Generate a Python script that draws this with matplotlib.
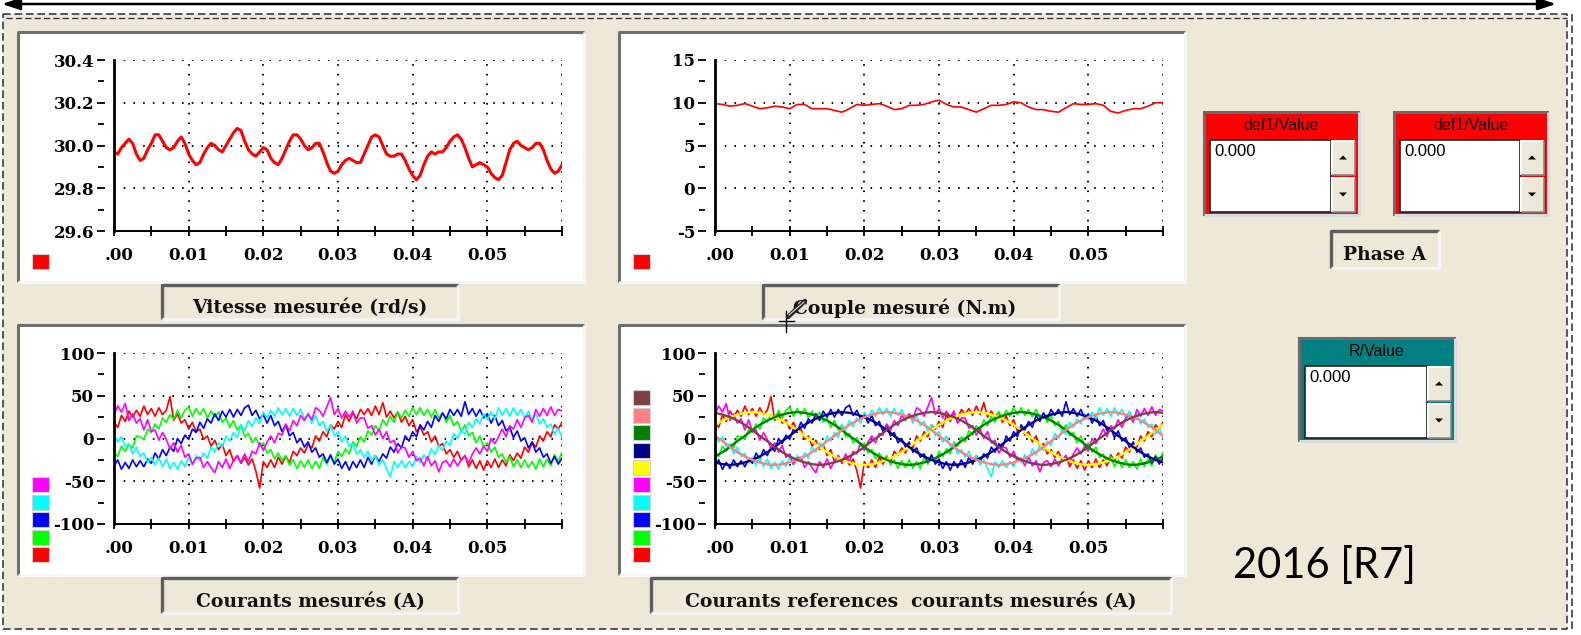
import numpy as np
import matplotlib
matplotlib.use("Agg")
import matplotlib.pyplot as plt
from matplotlib.patches import Rectangle, Polygon
from matplotlib.transforms import ScaledTranslation

W, H = 1581, 635
DPI = 100

plt.rcParams['font.family'] = 'DejaVu Serif'
plt.rcParams['font.weight'] = 'bold'

dt_vitesse = 0.0005
vitesse = [29.97, 29.96, 29.99, 30.01, 30.03, 30.01, 29.96, 29.93, 29.94, 29.98,
           30.01, 30.05, 30.05, 30.02, 29.99, 29.98, 29.99, 30.02, 30.04, 30.01,
           29.96, 29.93, 29.91, 29.92, 29.96, 29.99, 30.01, 30.00, 29.98, 29.97,
           30.00, 30.03, 30.06, 30.08, 30.07, 30.02, 29.98, 29.96, 29.95, 29.97,
           29.99, 29.98, 29.94, 29.92, 29.91, 29.94, 29.98, 30.02, 30.05, 30.05,
           30.03, 30.00, 29.98, 29.99, 30.01, 30.01, 29.97, 29.92, 29.88, 29.87,
           29.88, 29.91, 29.93, 29.94, 29.93, 29.92, 29.92, 29.96, 30.00, 30.04,
           30.05, 30.04, 30.00, 29.96, 29.95, 29.95, 29.96, 29.96, 29.93, 29.89,
           29.86, 29.84, 29.86, 29.91, 29.95, 29.97, 29.96, 29.97, 29.97, 29.99,
           30.02, 30.04, 30.05, 30.03, 29.99, 29.94, 29.90, 29.91, 29.92, 29.91,
           29.90, 29.87, 29.85, 29.84, 29.86, 29.92, 29.98, 30.01, 30.02, 30.00,
           29.99, 29.98, 29.99, 30.01, 30.01, 29.98, 29.93, 29.89, 29.87, 29.88,
           29.91]

dt_couple = 0.001
couple = [9.9, 9.8, 9.6, 9.7, 9.9, 9.6, 9.3, 9.4, 9.6, 9.5,
          9.3, 9.8, 9.8, 9.3, 9.3, 9.3, 9.1, 8.9, 9.3, 9.8,
          9.7, 9.8, 9.9, 9.6, 9.2, 9.3, 9.7, 9.7, 9.8, 10.1,
          10.3, 9.8, 9.5, 9.5, 9.2, 8.9, 9.3, 9.7, 9.7, 9.8,
          10.1, 10.0, 9.5, 9.2, 9.2, 9.0, 8.9, 9.4, 9.9, 9.8,
          9.8, 9.9, 9.7, 9.0, 8.8, 9.1, 9.3, 9.3, 9.6, 10.0,
          10.0]

# courants mesures (pas 0.5 ms)
dt_mes = 0.0005
i_rouge = [19, 13, 27, 20, 32, 25, 33, 26, 38, 28, 35, 26, 36, 28, 33, 49, 21, 29, 18, 22,
           11, 19, 8, 11, -1, 3, -9, -2, -13, -7, -20, -13, -27, -20, -29, -22, -31, -24, -38, -58,
           -27, -34, -25, -34, -22, -30, -21, -28, -15, -20, -11, -17, -7, -11, 3, -3, 8, 2, 16, 11,
           20, 13, 28, 20, 30, 23, 34, 28, 35, 27, 38, 28, 42, 25, 32, 24, 31, 19, 26, 15,
           22, 8, 14, 4, 8, -4, 3, -9, -6, -18, -13, -22, -15, -26, -20, -33, -25, -35, -26, -37,
           -26, -34, -24, -34, -25, -32, -19, -26, -17, -23, -10, -16, -5, -10, 3, -3, 8, 2, 16, 11,
           19]
i_vert = [-17, -21, -9, -15, -7, -11, 3, 2, -1, 11, 7, 17, 11, 24, 19, 28, 22, 33, 24, 33,
          37, 26, 35, 28, 35, 24, 32, 25, 31, 19, 24, 13, 21, 10, 16, 2, 6, -5, 1, -9,
          -5, -17, -13, -24, -17, -26, -20, -31, -25, -35, -26, -34, -25, -35, -27, -35, -22, -30, -21, -28,
          -15, -21, -12, -18, -4, -9, 2, -4, 9, 4, 15, 9, 22, 15, 26, 19, 31, 24, 33, 26,
          36, 28, 36, 27, 34, 25, 34, 24, 30, 19, 27, 15, 20, 8, 16, 3, 7, -5, 3, -10,
          -5, -16, -10, -22, -18, -28, -21, -33, -25, -34, -25, -34, -27, -36, -24, -33, -24, -32, -19, -27,
          -16]
i_bleu = [-32, -25, -36, -28, -35, -25, -33, -26, -33, -24, -29, -17, -24, -13, -20, -10, -15, 0, -6, 4,
          -1, 11, 7, 19, 12, 23, 18, 29, 21, 32, 25, 34, 25, 34, 27, 36, 39, 27, 33, 23,
          28, 18, 27, 15, 20, 8, 16, 3, 7, -5, 0, -10, -4, -16, -11, -22, -18, -28, -19, -30,
          -24, -35, -27, -37, -27, -34, -25, -34, -22, -30, -20, -27, -18, -23, -10, -16, -6, -11, 3, -3,
          8, 2, 16, 10, 20, 13, 27, 20, 30, 23, 34, 27, 34, 26, 43, 28, 35, 26, 34, 24,
          29, 18, 27, 15, 21, 9, 13, 1, 9, -3, 1, -11, -4, -16, -11, -22, -18, -29, -21, -30,
          -23]
i_cyan = [5, -4, 2, -9, -6, -18, -10, -21, -17, -28, -22, -31, -23, -33, -24, -35, -28, -36, -26, -33,
          -22, -31, -20, -26, -17, -23, -10, -16, -5, -10, 3, -3, 7, 1, 16, 10, 21, 14, 24, 18,
          31, 24, 33, 26, 36, 28, 35, 26, 35, 27, 34, 23, 28, 18, 27, 15, 20, 8, 16, 3,
          8, -4, 3, -9, -6, -18, -13, -22, -15, -26, -20, -31, -25, -35, -45, -27, -34, -26, -34, -27,
          -33, -21, -28, -19, -26, -12, -19, -8, -14, -3, -8, 6, 0, 10, 5, 19, 13, 23, 17, 29,
          22, 31, 23, 36, 27, 35, 26, 36, 27, 34, 24, 32, 22, 29, 17, 23, 13, 17, 5, 12,
          1]
i_magenta = [28, 38, 31, 41, 21, 29, 18, 23, 10, 22, 8, 10, -2, 7, -1, -12, -5, -16, -8, -22,
             -18, -30, -23, -22, -34, -27, -34, -40, -27, -34, -24, -35, -26, -20, -28, -18, -27, -15, -18, -5,
             -14, -4, 3, -5, 6, 4, 17, 9, 21, 15, 27, 21, 29, 22, 36, 33, 26, 37, 48, 28,
             35, 24, 32, 25, 32, 18, 24, 24, 12, 15, 4, 11, 0, 8, -5, -2, -17, -10, -11, -22,
             -15, -26, -23, -32, -21, -32, -26, -39, -28, -26, -33, -24, -32, -25, -20, -29, -18, -11, -18, -9,
             -15, 0, -6, 2, 11, 2, 15, 11, 22, 13, 24, 27, 19, 34, 26, 35, 27, 37, 27, 34,
             32]

# courants de reference (pas 1 ms)
dt_ref = 0.001
ref_jaune = [16, 21, 25, 28, 30, 31, 30, 28, 25, 21, 16, 10, 3, -3, -10, -16, -21, -25, -28, -30,
             -31, -30, -28, -25, -21, -16, -10, -3, 3, 10, 16, 21, 25, 28, 30, 31, 30, 28, 25, 21,
             16, 10, 3, -3, -10, -16, -21, -25, -28, -30, -31, -30, -28, -25, -21, -16, -10, -3, 3, 10,
             16]
ref_vertfonce = [-21, -16, -10, -3, 3, 10, 16, 21, 25, 28, 30, 31, 30, 28, 25, 21, 16, 10, 3, -3,
                 -10, -16, -21, -25, -28, -30, -31, -30, -28, -25, -21, -16, -10, -3, 3, 10, 16, 21, 25, 28,
                 30, 31, 30, 28, 25, 21, 16, 10, 3, -3, -10, -16, -21, -25, -28, -30, -31, -30, -28, -25,
                 -21]
ref_marine = [-28, -30, -31, -30, -28, -25, -21, -16, -10, -3, 3, 10, 16, 21, 25, 28, 30, 31, 30, 28,
              25, 21, 16, 10, 3, -3, -10, -16, -21, -25, -28, -30, -31, -30, -28, -25, -21, -16, -10, -3,
              3, 10, 16, 21, 25, 28, 30, 31, 30, 28, 25, 21, 16, 10, 3, -3, -10, -16, -21, -25,
              -28]
ref_rose = [3, -3, -10, -16, -21, -25, -28, -30, -31, -30, -28, -25, -21, -16, -10, -3, 3, 10, 16, 21,
            25, 28, 30, 31, 30, 28, 25, 21, 16, 10, 3, -3, -10, -16, -21, -25, -28, -30, -31, -30,
            -28, -25, -21, -16, -10, -3, 3, 10, 16, 21, 25, 28, 30, 31, 30, 28, 25, 21, 16, 10,
            3]
ref_brun = [30, 28, 25, 21, 16, 10, 3, -3, -10, -16, -21, -25, -28, -30, -31, -30, -28, -25, -21, -16,
            -10, -3, 3, 10, 16, 21, 25, 28, 30, 31, 30, 28, 25, 21, 16, 10, 3, -3, -10, -16,
            -21, -25, -28, -30, -31, -30, -28, -25, -21, -16, -10, -3, 3, 10, 16, 21, 25, 28, 30, 31,
            30]

x_ticks = [0, 0.01, 0.02, 0.03, 0.04, 0.05, 0.06]
x_labels = ['.00', '0.01', '0.02', '0.03', '0.04', '0.05', '']
x_minor = [0.005, 0.015, 0.025, 0.035, 0.045, 0.055]

y_vit = [29.6, 29.8, 30.0, 30.2, 30.4]
y_vit_lab = ['29.6', '29.8', '30.0', '30.2', '30.4']
y_vit_min = [29.7, 29.9, 30.1, 30.3]
y_cpl = [-5, 0, 5, 10, 15]
y_cpl_lab = ['-5', '0', '5', '10', '15']
y_cpl_min = [-2.5, 2.5, 7.5, 12.5]
y_cour = [-100, -50, 0, 50, 100]
y_cour_lab = ['-100', '-50', '0', '50', '100']
y_cour_min = [-75, -25, 25, 75]

ROUGE, VERT, BLEU, CYAN, MAGENTA = '#ff0000', '#00ff00', '#0000ff', '#00ffff', '#ff00ff'
JAUNE, MARINE, VERTF, ROSE, BRUN = '#ffff00', '#000080', '#008000', '#ff8080', '#804040'
BEIGE = '#ece9d8'

fig = plt.figure(figsize=(W / DPI, H / DPI), dpi=DPI, facecolor='white')
bg = fig.add_axes([0, 0, 1, 1])
bg.set_xlim(0, W)
bg.set_ylim(H, 0)
bg.set_autoscale_on(False)
bg.axis('off')


def box(x0, y0, x1, y1, fc, ec='none', lw=0, z=1):
    bg.add_patch(Rectangle((x0, y0), x1 - x0, y1 - y0, facecolor=fc, edgecolor=ec, linewidth=lw, zorder=z))


def bevel(x0, y0, x1, y1, dark, light, lw, z=2):
    bg.plot([x0, x0, x1], [y1, y0, y0], color=dark, lw=lw, solid_capstyle='butt', zorder=z)
    bg.plot([x1, x1, x0], [y0, y1, y1], color=light, lw=lw, solid_capstyle='butt', zorder=z)


# fond beige + cadre en pointilles
box(3, 14, 1567, 629, BEIGE, z=0)
dash = (0, (5, 2.5))
bg.plot([3, 1567, 1567, 3, 3], [14, 14, 629, 629, 14], color='#2a2a3a', lw=1.1, linestyle=dash, zorder=1)
bg.plot([6, 1567], [17.5, 17.5], color='#2a2a3a', lw=0.9, linestyle=dash, zorder=1)
bg.plot([1571.5, 1571.5], [14, 629], color='#2a2a3a', lw=1.1, linestyle=dash, zorder=1)

# fleche du haut
bg.annotate('', xy=(2, 4), xytext=(1556, 4),
            arrowprops=dict(arrowstyle='<|-|>,head_length=0.6,head_width=0.2',
                            color='black', lw=1.8, mutation_scale=18, shrinkA=0, shrinkB=0))


def axes_px(x0, y0, x1, y1):
    return fig.add_axes([x0 / W, 1 - y1 / H, (x1 - x0) / W, (y1 - y0) / H])


def chart(ox, oy, ylim, yt, ylab, ymin, legend):
    box(ox + 17, oy + 31, ox + 585, oy + 283, 'white', z=1)
    bevel(ox + 18, oy + 32, ox + 584, oy + 282, '#6f6f6f', '#f6f6f6', 2.2)
    for k, c in enumerate(legend[::-1]):
        y0 = oy + 254 - k * 17.4
        box(ox + 32, y0, ox + 49, y0 + 15, c, ec='#cfcfcf', lw=0.8, z=3)

    ax = axes_px(ox + 114, oy + 60, ox + 562, oy + 231)
    ax.set_facecolor('none')
    ax.set_xlim(0, 0.06)
    ax.set_ylim(*ylim)
    for s in ['top', 'right']:
        ax.spines[s].set_visible(False)
    ax.spines['left'].set_linewidth(2.0)
    ax.spines['bottom'].set_linewidth(1.4)
    ax.set_xticks(x_ticks, x_labels)
    ax.set_xticks(x_minor, minor=True)
    ax.set_yticks(yt)
    ax.tick_params(axis='y', left=False, labelleft=False)
    ax.tick_params(axis='x', which='both', direction='inout', length=7, width=1.3,
                   pad=8, labelsize=12)
    ax.grid(True, which='major', color='black', linestyle=(0, (0.8, 4.2)), linewidth=1.4)
    lbl = ax.get_xticklabels()[0]
    lbl.set_transform(lbl.get_transform() + ScaledTranslation(0.05, 0, fig.dpi_scale_trans))

    sec = ax.secondary_yaxis(-13 / 448)
    sec.spines['left'].set_visible(False)
    sec.set_yticks(yt, ylab)
    sec.set_yticks(ymin, minor=True)
    sec.tick_params(which='major', direction='inout', length=6, width=1.3, pad=2, labelsize=12)
    sec.tick_params(which='minor', direction='inout', length=4, width=1.3)
    return ax


def titre(x0, y0, x1, y1, texte, cx):
    box(x0, y0, x1, y1, BEIGE, z=2)
    bevel(x0 + 1, y0 + 1, x1 - 1, y1 - 1, '#5e5e5e', '#f4f4f4', 2.4, z=3)
    bg.text(cx, (y0 + y1) / 2 + 6, texte, fontsize=13.5, fontweight='bold', family='DejaVu Serif',
            ha='center', va='center', color='#111111', zorder=4)


# vitesse
ax1 = chart(0, 0, (29.6, 30.4), y_vit, y_vit_lab, y_vit_min, [ROUGE])
ax1.plot(np.arange(len(vitesse)) * dt_vitesse, vitesse, color=ROUGE, lw=2.2)
titre(161, 284, 459, 320, 'Vitesse mesurée (rd/s)', 310)

# couple
ax2 = chart(601, 0, (-5, 15), y_cpl, y_cpl_lab, y_cpl_min, [ROUGE])
ax2.plot(np.arange(len(couple)) * dt_couple, couple, color=ROUGE, lw=1.2)
titre(762, 284, 1060, 320, 'Couple mesuré (N.m)', 905)

# courants mesures
mesures = [(i_rouge, ROUGE), (i_vert, VERT), (i_bleu, BLEU), (i_cyan, CYAN), (i_magenta, MAGENTA)]
refs = [(ref_jaune, JAUNE), (ref_vertfonce, VERTF), (ref_marine, MARINE), (ref_rose, ROSE), (ref_brun, BRUN)]

ax3 = chart(0, 293, (-100, 100), y_cour, y_cour_lab, y_cour_min,
            [MAGENTA, CYAN, BLEU, VERT, ROUGE])
for vals, c in mesures:
    ax3.plot(np.arange(len(vals)) * dt_mes, vals, color=c, lw=1.2)
titre(161, 577, 459, 614, 'Courants mesurés (A)', 310)

ax4 = chart(601, 293, (-100, 100), y_cour, y_cour_lab, y_cour_min,
            [BRUN, ROSE, VERTF, MARINE, JAUNE, MAGENTA, CYAN, BLEU, VERT, ROUGE])
for vals, c in mesures:
    ax4.plot(np.arange(len(vals)) * dt_mes, vals, color=c, lw=1.2)
for vals, c in refs:
    ax4.plot(np.arange(len(vals)) * dt_ref, vals, color=c, lw=1.7)
titre(650, 577, 1172, 614, 'Courants references  courants mesurés (A)', 911)

# curseur
bg.plot([786, 786], [311, 332], color='black', lw=1.0, zorder=6)
bg.plot([779, 794], [321, 321], color='black', lw=1.0, zorder=6)
bg.plot([788, 805], [317, 301], color='#222222', lw=3.2, zorder=6, solid_capstyle='round')
bg.plot([789, 804], [315, 302], color='#dddddd', lw=0.8, zorder=7)


# afficheurs
def afficheur(x0, y0, x1, y1, couleur, titre_txt):
    box(x0, y0, x1, y1, couleur, z=2)
    bevel(x0 + 1, y0 + 1, x1 - 1, y1 - 1, '#6a6a6a', '#dcdcdc', 2.2, z=3)
    bg.text((x0 + x1) / 2, y0 + 14, titre_txt, fontsize=11.5, family='Liberation Sans',
            fontweight='normal', ha='center', va='center', color='black', zorder=4)
    fx1 = x1 - 29
    box(x0 + 7, y0 + 29, fx1, y1 - 4, 'white', ec='#202020', lw=1.2, z=3)
    bg.text(x0 + 11, y0 + 41, '0.000', fontsize=12, family='Liberation Sans',
            fontweight='normal', ha='left', va='center', color='black', zorder=4)
    ym = (y0 + 29 + y1 - 4) / 2
    for (a, b, up) in [(y0 + 29, ym - 1, True), (ym + 1, y1 - 4, False)]:
        box(fx1, a, x1 - 5, b, BEIGE, z=3)
        bevel(fx1 + 0.5, a + 0.5, x1 - 5.5, b - 0.5, '#ffffff', '#8a8a8a', 1.2, z=4)
        cx, cy = (fx1 + x1 - 5) / 2, (a + b) / 2
        if up:
            pts = [(cx - 4, cy + 2), (cx + 4, cy + 2), (cx, cy - 2)]
        else:
            pts = [(cx - 4, cy - 2), (cx + 4, cy - 2), (cx, cy + 2)]
        bg.add_patch(Polygon(pts, closed=True, facecolor='black', edgecolor='none', zorder=5))


afficheur(1203, 111, 1360, 216, '#ff0000', 'def1/Value')
afficheur(1393, 111, 1549, 216, '#ff0000', 'def1/Value')
afficheur(1298, 337, 1456, 442, '#008080', 'R/Value')

box(1330, 230, 1440, 269, BEIGE, z=2)
bevel(1331, 231, 1439, 268, '#5e5e5e', '#f4f4f4', 2.4, z=3)
bg.text(1385, 255, 'Phase A', fontsize=13.5, fontweight='bold', family='DejaVu Serif',
        ha='center', va='center', color='#111111', zorder=4)

bg.text(1324, 566, '2016 [R7]', fontsize=30, family='Lato', fontweight='normal',
        ha='center', va='center', color='black', zorder=4)

fig.savefig('out.png', dpi=DPI, facecolor='white')
